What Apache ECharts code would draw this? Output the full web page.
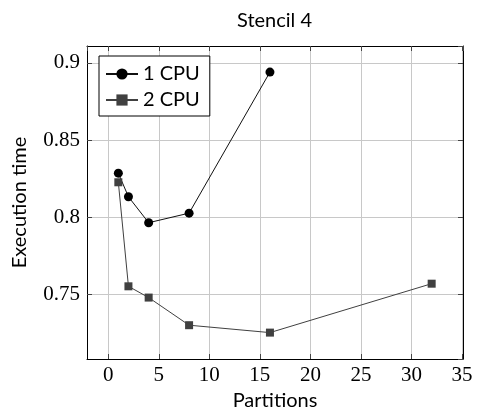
<!DOCTYPE html>
<html>
<head>
<meta charset="utf-8">
<script src="https://cdn.jsdelivr.net/npm/echarts@6/dist/echarts.min.js"></script>
<style>
html,body{margin:0;padding:0;background:#fff;}
#c{width:477px;height:412px;}
</style>
</head>
<body>
<div id="c"></div>
<script>
var titleText = "Stencil 4";
var xName = "Partitions";
var yName = "Execution time";
var seriesNames = ["1 CPU", "2 CPU"];
var partitions1 = [1, 2, 4, 8, 16];
var cpu1 = [0.8285, 0.8132, 0.7964, 0.8026, 0.894];
var partitions2 = [1, 2, 4, 8, 16, 32];
var cpu2 = [0.8226, 0.7552, 0.7479, 0.7300, 0.7252, 0.7569];

function pairs(xs, ys) { return xs.map(function (x, i) { return [x, ys[i]]; }); }

var sansFont = "Lato";
var serifFont = "Liberation Serif";
var xMin = -2.1, xMax = 35.1, yMin = 0.7081, yMax = 0.9109;

function xAx(pos, main) {
  return {
    type: 'value', position: pos, min: xMin, max: xMax, splitNumber: 7,
    name: main ? xName : '', nameLocation: 'middle', nameGap: 30,
    nameTextStyle: { fontFamily: sansFont, fontSize: 20, color: '#000' },
    axisLine: { show: true, onZero: false, lineStyle: { color: '#000', width: 1 } },
    axisTick: { show: true, inside: true, length: 5, lineStyle: { color: '#444' } },
    axisLabel: { show: main, margin: 6, fontFamily: serifFont, fontSize: 21, color: '#000',
      showMinLabel: false, showMaxLabel: false },
    splitLine: { show: main, lineStyle: { color: '#c8c8c8', width: 1 } }
  };
}
function yAx(pos, main) {
  return {
    type: 'value', position: pos, min: yMin, max: yMax, splitNumber: 4,
    name: main ? yName : '', nameLocation: 'middle', nameGap: 57,
    nameTextStyle: { fontFamily: sansFont, fontSize: 20, color: '#000' },
    axisLine: { show: true, onZero: false, lineStyle: { color: '#000', width: 1 } },
    axisTick: { show: true, inside: true, length: 5, lineStyle: { color: '#444' } },
    axisLabel: { show: main, margin: 7, fontFamily: serifFont, fontSize: 21, color: '#000',
      showMinLabel: false, showMaxLabel: false,
      formatter: function (v) { return String(+v.toFixed(2)); } },
    splitLine: { show: main, lineStyle: { color: '#c8c8c8', width: 1 } }
  };
}

var chart = echarts.init(document.getElementById('c'), null, { renderer: 'canvas' });
chart.setOption({
  animation: false,
  backgroundColor: '#fff',
  title: {
    text: titleText, left: 237, top: 11, padding: 0,
    textStyle: { fontFamily: sansFont, fontSize: 20, fontWeight: 'normal', color: '#000' }
  },
  grid: { left: 87, top: 46, right: 14, bottom: 53, containLabel: false, outerBoundsMode: 'none' },
  legend: {
    orient: 'vertical', left: 99, top: 56,
    padding: [8, 10, 6, 6], itemGap: 6, itemWidth: 32, itemHeight: 14,
    borderColor: '#000', borderWidth: 1, backgroundColor: '#fff',
    textStyle: { fontFamily: sansFont, fontSize: 20, color: '#000' },
    data: seriesNames
  },
  xAxis: [xAx('bottom', true), xAx('top', false)],
  yAxis: [yAx('left', true), yAx('right', false)],
  series: [
    {
      name: seriesNames[0], type: 'line', xAxisIndex: 0, yAxisIndex: 0,
      data: pairs(partitions1, cpu1),
      symbol: 'circle', symbolSize: 9,
      lineStyle: { color: '#111', width: 1 },
      itemStyle: { color: '#000' }
    },
    {
      name: seriesNames[1], type: 'line', xAxisIndex: 0, yAxisIndex: 0,
      data: pairs(partitions2, cpu2),
      symbol: 'rect', symbolSize: 8,
      lineStyle: { color: '#404040', width: 1 },
      itemStyle: { color: '#404040' }
    }
  ]
});
</script>
</body>
</html>
